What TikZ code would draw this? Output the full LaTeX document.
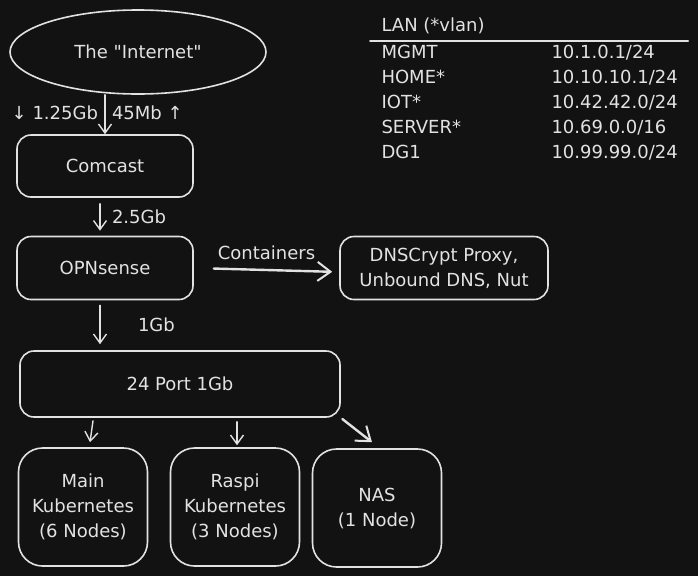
\documentclass[tikz,border=0pt]{standalone}
\usepackage{fontspec}
\setmainfont{DejaVu Sans}
\usetikzlibrary{arrows.meta,shapes.geometric}
\definecolor{canvas}{HTML}{121212}
\definecolor{chalk}{HTML}{E2E2E2}

\tikzset{
  every node/.style={text=chalk, font=\fontsize{18}{25}\selectfont},
  box/.style={draw=chalk, line width=1.6pt, rounded corners=14pt,
    align=center, inner sep=0pt},
  tallbox/.style={box, rounded corners=24pt,
    minimum width=129pt, minimum height=118pt},
  link/.style={draw=chalk, line width=1.4pt, line cap=round,
    -{Straight Barb[length=9pt,width=13pt,line width=1.4pt]}},
  biglink/.style={link, line width=2.4pt,
    -{Straight Barb[length=13pt,width=19pt,line width=2pt]}},
}

\begin{document}
\begin{tikzpicture}[x=1pt,y=-1pt]
\useasboundingbox (0,0) rectangle (698,576);
\fill[canvas] (0,0) rectangle (698,576);

% uplink
\node[draw=chalk, line width=1.6pt, ellipse, minimum width=256pt,
  minimum height=84pt, inner sep=0pt] (inet) at (138,52)
  {The \textquotedbl Internet\textquotedbl};
\node[box, minimum width=176pt, minimum height=62pt] (comcast) at (105,166) {Comcast};
\node[box, minimum width=176pt, minimum height=63pt] (opn) at (105,268) {OPNsense};
\node[box, minimum width=208pt, minimum height=63pt] (dns) at (444,268)
  {DNSCrypt Proxy,\\Unbound DNS, Nut};

% switch and hosts
\node[box, minimum width=320pt, minimum height=66pt] (switch) at (180,384) {24 Port 1Gb};
\node[tallbox] (main) at (83,507) {Main\\Kubernetes\\(6 Nodes)};
\node[tallbox] (raspi) at (235,507) {Raspi\\Kubernetes\\(3 Nodes)};
\node[tallbox] (nas) at (377,508) {NAS\\(1 Node)};

% links
\draw[link] (inet.south -| comcast.north) -- (comcast.north)
  node[pos=0.45, left=3pt] (down) {↓ 1.25Gb}
  node[pos=0.45, right=3pt] (up) {45Mb ↑};
\draw[link, shorten <=6pt, shorten >=5pt]
  ([xshift=-5pt]comcast.south) -- ([xshift=-5pt]opn.north)
  node[midway, right=8pt] (wan) {2.5Gb};
\draw[link, shorten <=5pt, shorten >=6pt]
  ([xshift=-5pt]opn.south) -- ([xshift=-5pt]opn.south |- switch.north)
  node[midway, right=34pt] (lan) {1Gb};
\draw[biglink, shorten <=20pt, shorten >=7pt]
  (opn.east) -- ([yshift=-4pt]dns.west)
  node[midway, above=6pt] (cont) {Containers};
\draw[link] ([xshift=10pt,yshift=-3pt]switch.south -| main.north)
  -- ([xshift=7pt,yshift=5pt]main.north);
\draw[link, shorten <=4pt, shorten >=2pt]
  ([xshift=2pt]switch.south -| raspi.north) -- ([xshift=2pt]raspi.north);
\draw[biglink, shorten <=2pt] (switch.south east)
  -- ([xshift=-5pt,yshift=6pt]nas.north);

% lan table
\node[anchor=base west] (lanhead) at (378,31) {LAN (*vlan)};
\draw[chalk, line width=2pt, line cap=round] (370,41) -- (688,41);
\foreach \vlan/\net/\mask [count=\i] in {MGMT/10.1.0.1/24, HOME*/10.10.10.1/24,
    IOT*/10.42.42.0/24, SERVER*/10.69.0.0/16, DG1/10.99.99.0/24}{
  \node[anchor=base west] (vlan\i) at (378,{58+25*(\i-1)}) {\vlan};
  \node[anchor=base west] (net\i) at (548,{58+25*(\i-1)}) {\net/\mask};
}
\end{tikzpicture}
\end{document}
